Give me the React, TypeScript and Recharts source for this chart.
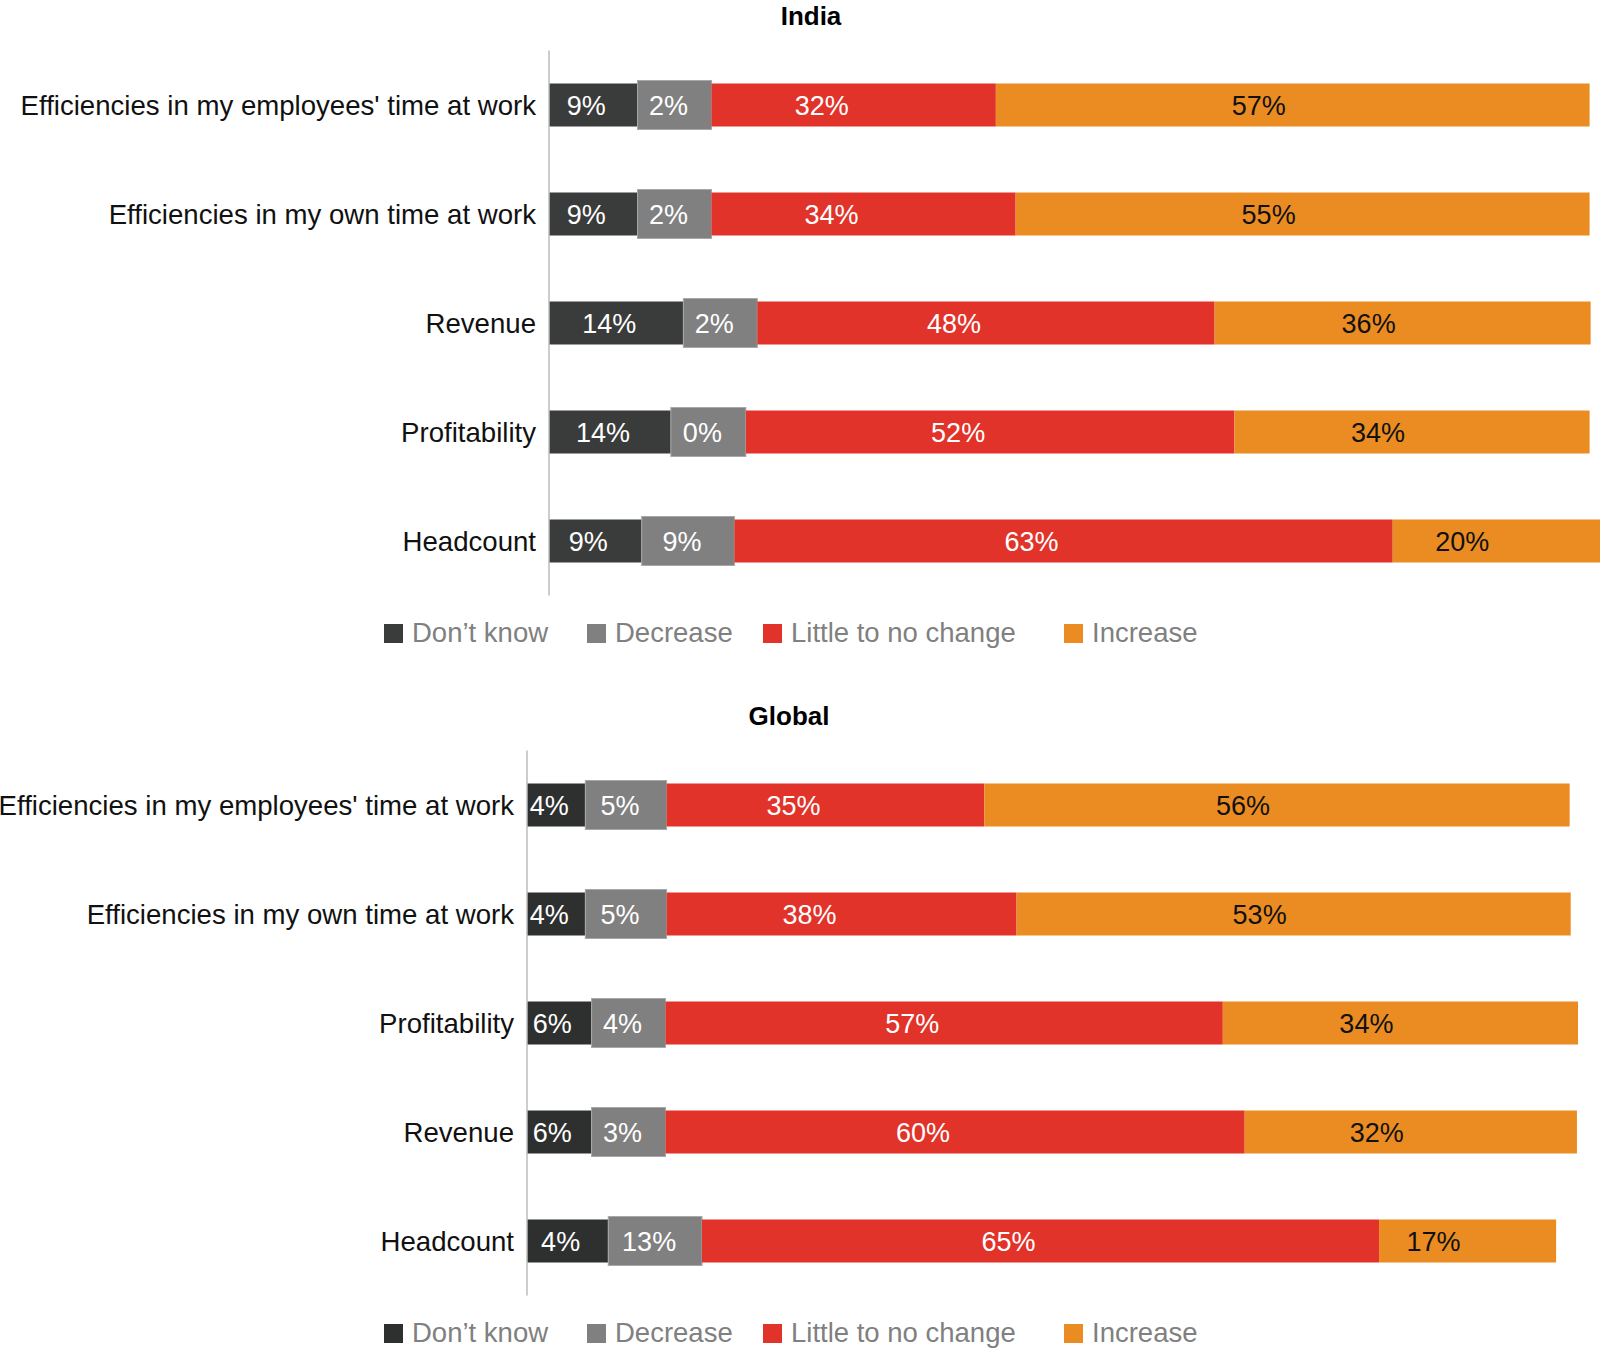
import React from 'react';
import { BarChart, Bar, XAxis, YAxis, LabelList } from 'recharts';

// India
const indiaCategories = [
  "Efficiencies in my employees' time at work",
  'Efficiencies in my own time at work',
  'Revenue',
  'Profitability',
  'Headcount',
];
const indiaDontKnow = [9, 9, 14, 14, 9];
const indiaDecrease = [2, 2, 2, 0, 9];
const indiaNoChange = [32, 34, 48, 52, 63];
const indiaIncrease = [57, 55, 36, 34, 20];
// the source bars are not drawn to scale, so segment lengths are read off the picture separately
const indiaDontKnowLen = [8.5, 8.5, 12.9, 11.7, 8.9];
const indiaDecreaseLen = [7.1, 7.1, 7.1, 7.2, 8.9];
const indiaNoChangeLen = [27.3, 29.2, 43.9, 46.9, 63.2];
const indiaIncreaseLen = [57.0, 55.1, 36.1, 34.1, 19.9];

// Global
const globalCategories = [
  "Efficiencies in my employees' time at work",
  'Efficiencies in my own time at work',
  'Profitability',
  'Revenue',
  'Headcount',
];
const globalDontKnow = [4, 4, 6, 6, 4];
const globalDecrease = [5, 5, 4, 3, 13];
const globalNoChange = [35, 38, 57, 60, 65];
const globalIncrease = [56, 53, 34, 32, 17];
const globalDontKnowLen = [5.6, 5.6, 6.2, 6.2, 7.8];
const globalDecreaseLen = [7.8, 7.8, 7.1, 7.1, 9.0];
const globalNoChangeLen = [30.5, 33.6, 53.5, 55.6, 65.0];
const globalIncreaseLen = [56.2, 53.2, 34.1, 31.9, 17.0];

const seriesNames = ['Don’t know', 'Decrease', 'Little to no change', 'Increase'];

const FONT = '"Liberation Sans", Arial, Helvetica, sans-serif';
const RED = '#e1332a';
const ORANGE = '#eb8c23';
const GREY = '#7f807f';

const buildRows = (
  cats: string[],
  dk: number[], dec: number[], nc: number[], inc: number[],
  dkLen: number[], decLen: number[], ncLen: number[], incLen: number[],
) =>
  cats.map((name, i) => ({
    name,
    dk: dkLen[i], dec: decLen[i], nc: ncLen[i], inc: incLen[i],
    dkLabel: dk[i], decLabel: dec[i], ncLabel: nc[i], incLabel: inc[i],
  }));

const indiaRows = buildRows(indiaCategories, indiaDontKnow, indiaDecrease, indiaNoChange, indiaIncrease,
  indiaDontKnowLen, indiaDecreaseLen, indiaNoChangeLen, indiaIncreaseLen);
const globalRows = buildRows(globalCategories, globalDontKnow, globalDecrease, globalNoChange, globalIncrease,
  globalDontKnowLen, globalDecreaseLen, globalNoChangeLen, globalIncreaseLen);

const segLabel = (fill: string, dx: number) => (props: any) => {
  const x = Number(props.x), y = Number(props.y);
  const w = Number(props.width), h = Number(props.height);
  return (
    <text
      x={x + w / 2 + dx}
      y={y + h / 2 + 1}
      fill={fill}
      fontSize={27}
      fontFamily={FONT}
      textAnchor="middle"
      dominantBaseline="central"
    >
      {props.value}%
    </text>
  );
};

// decrease segments stand slightly taller than the others
const GreyShape = (p: any) => (
  <rect x={p.x} y={p.y - 3} width={p.width} height={p.height + 6} fill={GREY} stroke="#a8a8a8" strokeWidth={1} />
);

const Legend = ({ top, dark }: { top: number; dark: string }) => {
  const xs = [384, 587, 763, 1064];
  const colors = [dark, GREY, RED, ORANGE];
  return (
    <>
      {seriesNames.map((n, i) => (
        <div
          key={n}
          style={{ position: 'absolute', left: xs[i], top: top - 16, height: 32, display: 'flex', alignItems: 'center' }}
        >
          <span style={{ width: 19, height: 19, background: colors[i], display: 'inline-block', marginRight: 9 }} />
          <span style={{ fontFamily: FONT, fontSize: 27.5, color: '#808080', whiteSpace: 'nowrap' }}>{n}</span>
        </div>
      ))}
    </>
  );
};

const Panel = ({ title, titleX, top, axisLeft, rows, dark }: any) => (
  <>
    <div
      style={{
        position: 'absolute', left: titleX - 150, width: 300, top: top + 1, textAlign: 'center',
        fontFamily: FONT, fontWeight: 700, fontSize: 26, lineHeight: '30px', color: '#000',
      }}
    >
      {title}
    </div>
    <div style={{ position: 'absolute', left: 0, top }}>
      <BarChart
        width={axisLeft + 1051}
        height={600}
        data={rows}
        layout="vertical"
        margin={{ top: 50.5, bottom: 4.5, left: 0, right: 0 }}
        barCategoryGap={0}
      >
        <XAxis type="number" domain={[0, 100.9]} hide allowDataOverflow />
        <YAxis
          type="category"
          dataKey="name"
          width={axisLeft}
          tickLine={false}
          tickSize={0}
          tickMargin={13}
          axisLine={{ stroke: '#bdbdbd', strokeWidth: 1.5 }}
          tick={{ fill: '#111', fontSize: 27.6, fontFamily: FONT }}
          interval={0}
        />
        <Bar dataKey="dk" stackId="s" fill={dark} barSize={43} isAnimationActive={false}>
          <LabelList dataKey="dkLabel" content={segLabel('#fff', -7)} />
        </Bar>
        <Bar dataKey="dec" stackId="s" fill={GREY} barSize={43} shape={GreyShape} isAnimationActive={false}>
          <LabelList dataKey="decLabel" content={segLabel('#fff', -6)} />
        </Bar>
        <Bar dataKey="nc" stackId="s" fill={RED} barSize={43} isAnimationActive={false}>
          <LabelList dataKey="ncLabel" content={segLabel('#fff', -32)} />
        </Bar>
        <Bar dataKey="inc" stackId="s" fill={ORANGE} barSize={43} isAnimationActive={false}>
          <LabelList dataKey="incLabel" content={segLabel('#111', -34)} />
        </Bar>
      </BarChart>
    </div>
    <Legend top={top + 633} dark={dark} />
  </>
);

export default function App() {
  return (
    <div style={{ position: 'absolute', left: 0, top: 0, width: 1600, height: 1364, background: '#fff', overflow: 'hidden' }}>
      <Panel title="India" titleX={811} top={0} axisLeft={549} rows={indiaRows} dark="#3a3b3b" />
      <Panel title="Global" titleX={789} top={700} axisLeft={527} rows={globalRows} dark="#2e302f" />
    </div>
  );
}
